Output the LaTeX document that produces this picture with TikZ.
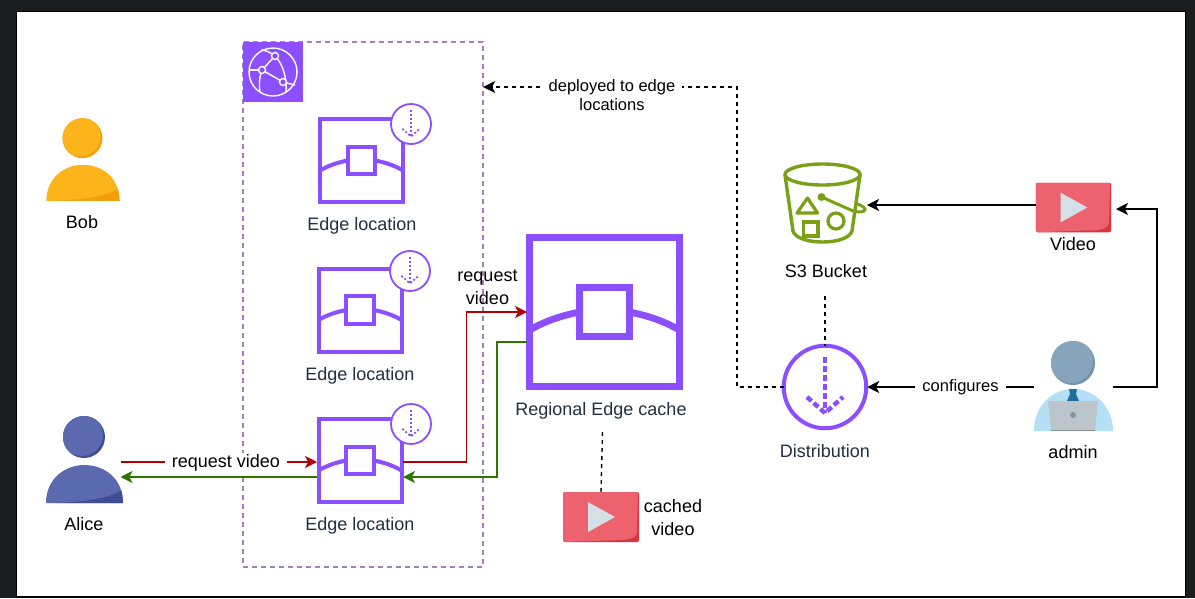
\documentclass[tikz,border=0pt]{standalone}
\usepackage{fontspec}
\setmainfont{Liberation Sans}
\usetikzlibrary{arrows.meta}
\definecolor{framedark}{HTML}{1C1D1E}
\definecolor{awspurple}{HTML}{8C4FFF}
\definecolor{groupline}{HTML}{A680B8}
\definecolor{awsink}{HTML}{232F3E}
\definecolor{bucketgreen}{HTML}{7AA116}
\definecolor{redflow}{HTML}{B20000}
\definecolor{greenflow}{HTML}{2D7600}
\definecolor{playred}{HTML}{EC626E}
\definecolor{playdark}{HTML}{D73543}
\definecolor{playgrey}{HTML}{D5E0E6}
\definecolor{bobbase}{HTML}{FBB41A}
\definecolor{bobdark}{HTML}{F59E0B}
\definecolor{alicebase}{HTML}{5B69AF}
\definecolor{alicedark}{HTML}{3F4C94}
\definecolor{adminhead}{HTML}{86A5BC}
\definecolor{adminheaddark}{HTML}{7391A8}
\definecolor{adminbody}{HTML}{B5DFF5}
\definecolor{admintie}{HTML}{1F6E9E}
\definecolor{adminlaptop}{HTML}{BCC5CC}
\definecolor{adminlaptopdark}{HTML}{8A9299}
\tikzset{
  iconbox/.style={inner sep=0pt,outer sep=0pt},
  iconlabel/.style={inner sep=0pt,font=\fontsize{18}{23}\selectfont,text=awsink,align=center},
  flowlabel/.style={inner xsep=7pt,inner ysep=2pt,fill=white,font=\fontsize{18}{23}\selectfont,align=center},
  smallflowlabel/.style={flowlabel,inner ysep=0pt,font=\fontsize{16.5}{19.5}\selectfont},
  plainlabel/.style={inner sep=0pt,font=\fontsize{18}{23}\selectfont,align=center},
  flow/.style={line width=1.4pt,-{Stealth[length=12pt,width=12pt,inset=3.2pt]}},
  dashflow/.style={flow,dash pattern=on 4pt off 4pt},
  dashlink/.style={line width=1.4pt,dash pattern=on 4pt off 4pt},
  pics/edgeicon/.style={code={
    \draw[awspurple,line width=#1] (-41.5,-41.5) rectangle (41.5,41.5);
    \draw[awspurple,line width=#1] (-13.8,-13.8) rectangle (13.8,13.8);
    \draw[awspurple,line width=#1] (-41.5,10) .. controls (-33,5) and (-24,2) .. (-13.8,0);
    \draw[awspurple,line width=#1] (41.5,10) .. controls (33,5) and (24,2) .. (13.8,0);
  }},
  pics/distarrow/.style n args={3}{code={
    \draw[awspurple,line width=#1,dash pattern=on #2pt off #3pt] (0,-30) -- (0,26);
    \draw[awspurple,line width=#1,dash pattern=on #2pt off #3pt] (-18,10) -- (0,26) -- (18,10);
  }},
  pics/person/.style n args={2}{code={
    \fill[#2] (0,-23) circle (21);
    \begin{scope}
      \clip (0,-23) circle (21);
      \fill[#1] (-2,-25) circle (21);
    \end{scope}
    \fill[#1] (-38,43) .. controls (-38,18) and (-18,5) .. (0,5)
      .. controls (20,5) and (39,18) .. (39,43) -- cycle;
    \fill[#2] (-28,43) .. controls (0,42) and (28,38) .. (37,30)
      .. controls (38,34) and (39,38) .. (39,43) -- cycle;
  }},
  pics/playicon/.style={code={
    \fill[playdark,rounded corners=2pt] (-38,-25) rectangle (38,25);
    \fill[playred,rounded corners=2pt] (-38,-25) -- (37,-25) -- (36,14)
      .. controls (35.5,20) and (30,22.5) .. (20,23) -- (-38,25) -- cycle;
    \fill[playgrey] (-13,-15) -- (14,0) -- (-13,15) -- cycle;
  }},
}
\begin{document}
\begin{tikzpicture}[x=1pt,y=-1pt]
  \useasboundingbox (0,0) rectangle (1195,598);
  \fill[framedark] (0,0) rectangle (1195,598);
  \fill[black] (16,11) rectangle (1186,598);
  \fill[white] (17,12) rectangle (1185,596);

  % group of edge locations
  \node[iconbox,draw=groupline,line width=1.6pt,dash pattern=on 5pt off 4pt,
    minimum width=240,minimum height=525] (cdngroup) at (363.2,304.5) {};
  \node[iconbox,fill=awspurple,minimum size=60] (cdnicon) at (273,72) {};
  \draw[white,line width=1.4pt] (cdnicon) circle (24);
  \draw[white,line width=1.4pt] (262,70) -- (283,82);
  \draw[white,line width=1.4pt] (262,70) -- (275,56);
  \draw[white,line width=1.4pt] (275,56) .. controls (283,64) and (287,78) .. (286,92);
  \draw[white,line width=1.4pt] (262,70) .. controls (259,78) and (259,86) .. (260,92);
  \draw[white,line width=1.4pt] (249,70) -- (262,70);
  \draw[white,line width=1.4pt] (283,82) -- (295,85);
  \draw[white,line width=1.4pt] (275,56) .. controls (270,52) and (265,50) .. (261,50);
  \draw[white,fill=awspurple,line width=1.4pt] (275,56) circle (3.5);
  \draw[white,fill=awspurple,line width=1.4pt] (262,70) circle (3.5);
  \draw[white,fill=awspurple,line width=1.4pt] (283,82) circle (3.5);

  % users
  \node[iconbox,minimum width=73,minimum height=84] (bob) at (82.5,160) {};
  \pic[scale=0.95] at (bob) {person={bobbase}{bobdark}};
  \node[plainlabel] (boblabel) at (82,222) {Bob};
  \node[iconbox,minimum width=73,minimum height=88] (alice) at (84,460) {};
  \pic at (alice) {person={alicebase}{alicedark}};
  \node[plainlabel] (alicelabel) at (84,524) {Alice};

  % edge locations
  \node[iconbox,minimum size=86] (edgeone) at (361.5,160.5) {};
  \pic at (edgeone) {edgeicon=4pt};
  \node[iconbox,circle,draw=awspurple,fill=white,line width=1.8pt,minimum size=40] (badgeone) at (411,124) {};
  \pic[scale=0.48] at (badgeone) {distarrow={1.7pt}{2}{2}};
  \node[iconlabel] (edgeonelabel) at (362,226) {Edge location};

  \node[iconbox,minimum size=86] (edgetwo) at (360,310) {};
  \pic at (edgetwo) {edgeicon=4pt};
  \node[iconbox,circle,draw=awspurple,fill=white,line width=1.8pt,minimum size=40] (badgetwo) at (410,271) {};
  \pic[scale=0.48] at (badgetwo) {distarrow={1.7pt}{2}{2}};
  \node[iconlabel] (edgetwolabel) at (360,376) {Edge location};

  \node[iconbox,minimum size=86] (edgethree) at (360,460.5) {};
  \pic at (edgethree) {edgeicon=4pt};
  \node[iconbox,circle,draw=awspurple,fill=white,line width=1.8pt,minimum size=40] (badgethree) at (411,424) {};
  \pic[scale=0.48] at (badgethree) {distarrow={1.7pt}{2}{2}};
  \node[iconlabel] (edgethreelabel) at (360,526) {Edge location};

  % regional cache
  \node[iconbox,minimum size=155] (regional) at (604.5,312) {};
  \pic[scale=1.8] at (regional) {edgeicon=6.8pt};
  \node[iconlabel] (regionallabel) at (601,411) {Regional Edge cache};

  \node[iconbox,minimum width=76,minimum height=50] (cachedvideo) at (601,517) {};
  \pic at (cachedvideo) {playicon};
  \node[plainlabel] (cachedlabel) at (673,518) {cached\\video};
  \coordinate (regionaldrop) at (602.5,432);
  \draw[dashlink] (regionaldrop) -- (cachedvideo.north);

  % request and response rows
  \coordinate (redrow) at (0,462);
  \coordinate (greenrow) at (0,477);
  \coordinate (redup) at (466.5,312);
  \coordinate (greendown) at (497,342);
  \draw[flow,redflow] (alice.east |- redrow) -- (edgethree.west |- redrow);
  \draw[flow,greenflow] (edgethree.west |- greenrow) -- (alice.east |- greenrow);
  \node[flowlabel] (aliceflow) at (226,463) {request video};
  \draw[flow,redflow] (edgethree.east |- redrow) -| (redup) -- (regional.west |- redup);
  \draw[flow,greenflow] (regional.west |- greendown) -- (greendown) |- (edgethree.east |- greenrow);
  \node[plainlabel] (regionalflow) at (487.5,287) {request\\video};

  % bucket
  \node[iconbox,minimum width=83,minimum height=80] (bucket) at (825.5,203) {};
  \draw[bucketgreen,line width=3.4pt] (822.5,174.5) ellipse (37.5 and 10.5);
  \draw[bucketgreen,line width=3.4pt,line join=round] (785,175) -- (793,231)
    .. controls (795,238) and (808,242) .. (822.5,242)
    .. controls (837,242) and (850,238) .. (852,231) -- (860,175);
  \fill[bucketgreen] (821.5,197) circle (4);
  \draw[bucketgreen,line width=3pt] (821.5,197) -- (852,210.5)
    .. controls (858,213) and (865,212) .. (865,209.5)
    .. controls (865,206.5) and (858,204) .. (855,203.5);
  \draw[bucketgreen,line width=3.2pt,line join=round] (807.5,198) -- (797,213) -- (817.5,213) -- cycle;
  \draw[bucketgreen,line width=3.2pt] (803.5,222) rectangle (818,236);
  \draw[bucketgreen,line width=3.2pt] (836,221) circle (8);
  \node[plainlabel] (bucketlabel) at (826,271) {S3 Bucket};
  \coordinate (bucketdrop) at (825,296);

  % video and admin
  \node[iconbox,minimum width=75,minimum height=50] (video) at (1073.5,207.5) {};
  \pic[scale=0.99] at (video) {playicon};
  \node[plainlabel] (videolabel) at (1073,244) {Video};

  \node[iconbox,minimum width=79,minimum height=88] (admin) at (1073.5,387) {};
  \fill[adminheaddark] (1073,363) circle (22);
  \begin{scope}
    \clip (1073,363) circle (22);
    \fill[adminhead] (1071,361) circle (22);
  \end{scope}
  \fill[adminbody] (1034,431) .. controls (1034,406) and (1052,389) .. (1073,389)
    .. controls (1094,389) and (1113,406) .. (1113,431) -- cycle;
  \fill[admintie] (1069,389) -- (1077,389) -- (1076,394) -- (1079,401) -- (1067,401) -- (1070,394) -- cycle;
  \fill[adminlaptop] (1048,401) -- (1098,401) -- (1095,430) -- (1051,430) -- cycle;
  \fill[adminlaptopdark] (1051,429.5) rectangle (1095,431);
  \fill[adminlaptopdark] (1073,415) circle (3);
  \node[plainlabel] (adminlabel) at (1073,452) {admin};

  % distribution
  \node[iconbox,circle,draw=awspurple,line width=4pt,minimum size=82.5] (dist) at (825,387) {};
  \pic at (dist) {distarrow={4.5pt}{6}{3}};
  \node[iconlabel] (distlabel) at (825,451) {Distribution};

  % connectors
  \coordinate (videorow) at (0,205);
  \draw[flow] (video.west |- videorow) -- (bucket.east |- videorow);
  \coordinate (adminup) at (1157,209);
  \draw[flow,shorten >=5pt] (admin.east) -| (adminup) -- (video.east |- adminup);
  \draw[flow,shorten >=1pt] (admin.west) -- (dist.east);
  \node[flowlabel] (configlabel) at (960.5,387.5) {\fontsize{16.5}{19.5}\selectfont configures};
  \draw[dashlink] (bucketdrop) -- (dist.north);
  \coordinate (deploybend) at (737,87);
  \draw[dashflow] (dist.west) -| (deploybend) -- (cdngroup.east |- deploybend);
  \node[smallflowlabel] (deploylabel) at (612,95) {deployed to edge\\locations};
\end{tikzpicture}
\end{document}
